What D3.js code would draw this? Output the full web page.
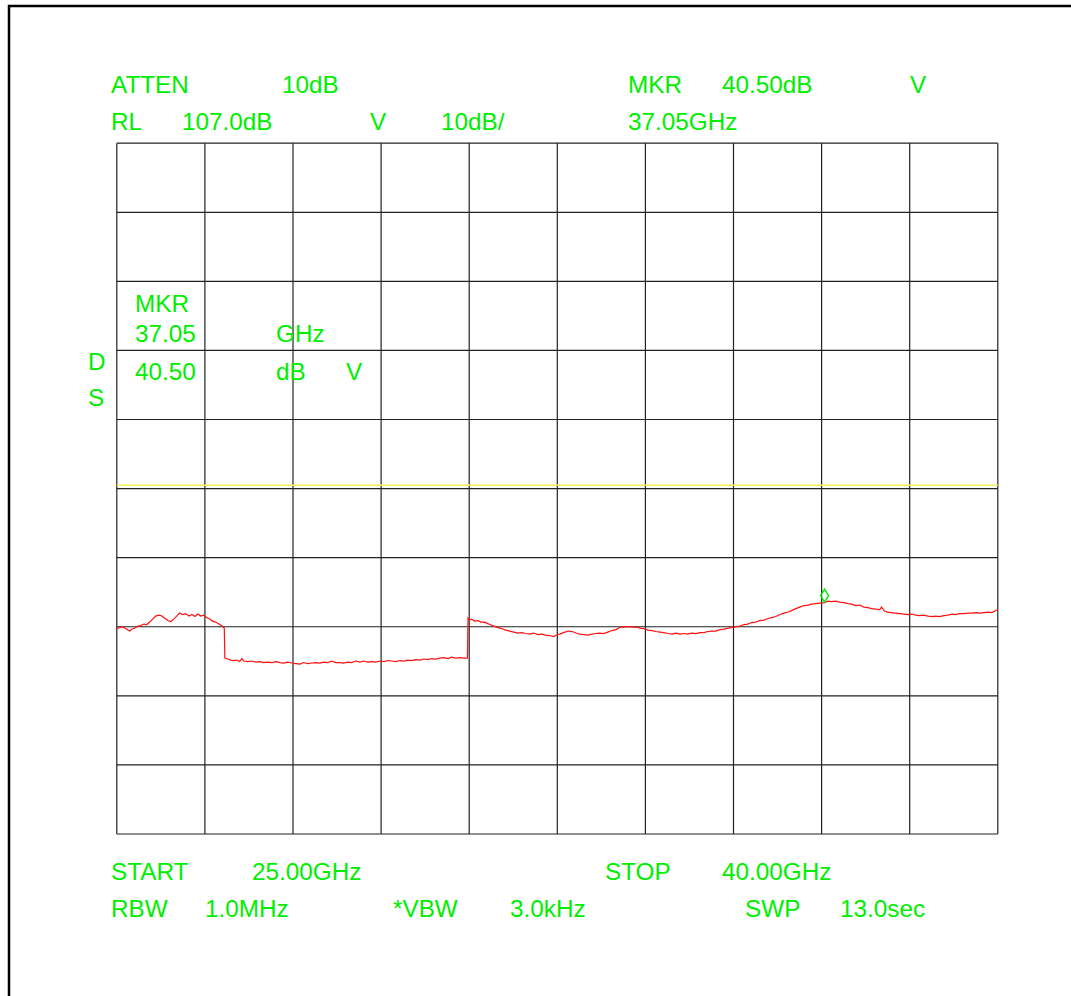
<!DOCTYPE html>
<html>
<head>
<meta charset="utf-8">
<script src="https://cdn.jsdelivr.net/npm/d3@7"></script>
<style>
  html, body { margin: 0; padding: 0; background: #fff; }
  svg { display: block; }
  text { font-family: "Liberation Sans", Arial, Helvetica, sans-serif; font-size: 24.3px; fill: #00ee00; }
</style>
</head>
<body>
<script>
// ---- Data ----
const startGHz = 25.0, stopGHz = 40.0;
const refLevelDb = 107.0, dbPerDiv = 10, nDivs = 10;
const xDivisions = [25, 26.5, 28, 29.5, 31, 32.5, 34, 35.5, 37, 38.5, 40];
const yDivisions = [7, 17, 27, 37, 47, 57, 67, 77, 87, 97, 107];
const displayLineDb = 57.5;
const markerGHz = 37.05, markerDb = 40.50;

const freqsGHz = [
  25.00,25.05,25.09,25.12,25.15,25.19,25.22,25.26,25.31,25.36,25.41,25.46,25.51,25.56,25.61,25.66,25.72,25.77,25.82,25.87,
  25.92,25.97,26.02,26.07,26.12,26.17,26.23,26.28,26.33,26.38,26.43,26.48,26.53,26.58,26.63,26.68,26.74,26.79,26.83,26.84,
  26.89,26.94,26.99,27.04,27.09,27.13,27.16,27.23,27.30,27.37,27.43,27.50,27.57,27.64,27.71,27.78,27.84,27.91,27.98,28.05,
  28.12,28.18,28.25,28.32,28.39,28.46,28.52,28.59,28.66,28.73,28.80,28.86,28.93,29.00,29.07,29.14,29.20,29.27,29.34,29.41,
  29.48,29.55,29.61,29.68,29.75,29.82,29.89,29.95,30.02,30.09,30.16,30.23,30.30,30.36,30.43,30.50,30.57,30.64,30.70,30.77,
  30.84,30.91,30.97,30.98,31.01,31.04,31.09,31.15,31.20,31.25,31.30,31.35,31.42,31.49,31.55,31.62,31.69,31.76,31.83,31.90,
  31.96,32.03,32.10,32.17,32.24,32.30,32.37,32.44,32.49,32.54,32.61,32.68,32.75,32.82,32.88,32.95,33.02,33.09,33.16,33.22,
  33.29,33.36,33.43,33.50,33.57,33.63,33.70,33.77,33.84,33.91,33.97,34.04,34.11,34.18,34.25,34.31,34.38,34.45,34.52,34.59,
  34.66,34.72,34.79,34.86,34.93,35.00,35.06,35.13,35.20,35.27,35.34,35.41,35.47,35.54,35.61,35.68,35.74,35.81,35.88,35.95,
  36.02,36.09,36.15,36.22,36.29,36.36,36.43,36.49,36.56,36.63,36.70,36.77,36.83,36.90,36.97,37.05,37.11,37.17,37.24,37.31,
  37.38,37.45,37.51,37.58,37.65,37.72,37.79,37.85,37.92,37.99,38.02,38.07,38.12,38.19,38.26,38.33,38.40,38.47,38.54,38.60,
  38.67,38.74,38.81,38.88,38.94,39.01,39.08,39.15,39.22,39.28,39.35,39.42,39.49,39.56,39.63,39.69,39.76,39.83,39.90,39.95,
  40.00
];
const levelsDb = [
  36.77,36.88,37.00,36.88,36.74,36.52,36.38,36.67,36.81,37.10,37.17,37.39,37.32,37.68,38.11,38.55,38.69,38.55,38.19,37.90,
  37.75,38.11,38.55,38.98,38.77,38.91,38.55,38.77,38.48,38.84,38.55,38.69,38.33,38.11,37.82,37.68,37.39,37.10,36.81,32.47,
  32.33,32.18,32.11,32.18,31.96,32.40,32.04,31.96,32.04,31.89,31.96,31.82,31.89,31.82,31.96,31.82,31.75,31.89,31.75,31.67,
  31.60,31.82,31.67,31.75,31.82,31.75,31.89,31.82,32.04,31.82,31.82,31.75,31.89,31.82,32.04,31.89,32.04,31.89,31.96,31.89,
  32.04,31.96,32.11,32.04,31.96,32.11,32.04,32.18,32.11,32.25,32.18,32.33,32.25,32.40,32.33,32.47,32.54,32.40,32.61,32.47,
  32.54,32.47,32.47,38.26,37.97,38.11,37.82,37.90,37.68,37.68,37.53,37.32,37.10,36.88,36.74,36.52,36.38,36.23,36.09,36.16,
  36.02,35.94,36.09,35.87,35.94,35.80,35.73,35.58,35.80,35.94,36.16,36.38,36.31,36.09,35.94,35.87,35.80,35.94,36.02,36.09,
  36.02,36.23,36.45,36.59,36.96,36.96,37.03,36.96,36.96,36.81,36.74,36.52,36.45,36.31,36.23,36.16,36.02,35.94,36.09,35.94,
  36.02,35.94,36.09,36.02,36.16,36.16,36.31,36.38,36.38,36.59,36.67,36.81,36.88,37.03,37.10,37.32,37.39,37.61,37.68,37.90,
  37.97,38.19,38.33,38.48,38.77,38.98,39.13,39.34,39.63,39.85,40.07,40.14,40.28,40.36,40.43,40.50,40.71,40.64,40.71,40.57,
  40.50,40.36,40.28,40.07,40.14,39.85,39.78,39.63,39.56,39.49,39.85,39.27,39.13,39.05,38.98,38.91,38.84,38.77,38.84,38.69,
  38.62,38.69,38.55,38.48,38.55,38.48,38.62,38.69,38.84,38.77,38.91,38.91,38.98,38.98,39.05,38.98,39.05,39.13,39.05,39.27,
  39.49
];

// Annotation texts: [label, x, baseline]
const headerTexts = [
  ["ATTEN", 111, 93], ["10dB", 282, 93], ["MKR", 628, 93], ["40.50dB", 722, 93], ["V", 910, 93],
  ["RL", 111, 130], ["107.0dB", 182, 130], ["V", 370, 130], ["10dB/", 441, 130], ["37.05GHz", 628, 130]
];
const markerTexts = [
  ["MKR", 135, 312], ["37.05", 135, 342], ["GHz", 276, 342],
  ["40.50", 135, 380], ["dB", 276, 380], ["V", 346, 380],
  ["D", 88, 370], ["S", 88, 406]
];
const footerTexts = [
  ["START", 111, 880], ["25.00GHz", 252, 880], ["STOP", 605, 880], ["40.00GHz", 722, 880],
  ["RBW", 111, 917], ["1.0MHz", 205, 917], ["*VBW", 393, 917], ["3.0kHz", 510, 917],
  ["SWP", 745, 917], ["13.0sec", 840, 917]
];

// ---- Drawing ----
const W = 1071, H = 996;
const svg = d3.select("body").append("svg").attr("width", W).attr("height", H);

// outer frame
svg.append("rect").attr("x", 9).attr("y", 6).attr("width", 1200).attr("height", 1200)
  .attr("fill", "none").attr("stroke", "#000").attr("stroke-width", 2.5);

const x = d3.scaleLinear().domain([startGHz, stopGHz]).range([116.8, 997.8]);
const y = d3.scaleLinear().domain([refLevelDb - dbPerDiv * nDivs, refLevelDb]).range([834, 143.2]);

const grid = svg.append("g");
grid.selectAll("line.v").data(xDivisions).join("line").attr("class", "v")
  .attr("x1", d => x(d)).attr("x2", d => x(d)).attr("y1", y(yDivisions[0])).attr("y2", y(yDivisions[yDivisions.length-1]))
  .attr("stroke", "#222").attr("stroke-width", 1.2);
grid.selectAll("line.h").data(yDivisions).join("line").attr("class", "h")
  .attr("y1", d => y(d)).attr("y2", d => y(d)).attr("x1", x(startGHz)).attr("x2", x(stopGHz))
  .attr("stroke", "#222").attr("stroke-width", 1.2);

// display line
svg.append("line").attr("x1", x(startGHz)).attr("x2", x(stopGHz))
  .attr("y1", y(displayLineDb)).attr("y2", y(displayLineDb))
  .attr("stroke", "#f2f25a").attr("stroke-width", 1.5);

// trace
const pts = freqsGHz.map((f, i) => [f, levelsDb[i]]);
svg.append("path").datum(pts)
  .attr("d", d3.line().x(d => x(d[0])).y(d => y(d[1])))
  .attr("fill", "none").attr("stroke", "#ff1010").attr("stroke-width", 1.2);

// marker diamond
const mx = x(markerGHz), my = y(markerDb) - 7;
svg.append("path")
  .attr("d", `M${mx},${my-6.5} L${mx+4},${my} L${mx},${my+6.5} L${mx-4},${my} Z`)
  .attr("fill", "none").attr("stroke", "#00ee00").attr("stroke-width", 1.4);

// texts
svg.append("g").selectAll("text").data(headerTexts.concat(markerTexts, footerTexts)).join("text")
  .attr("x", d => d[1]).attr("y", d => d[2]).text(d => d[0]);
</script>
</body>
</html>
